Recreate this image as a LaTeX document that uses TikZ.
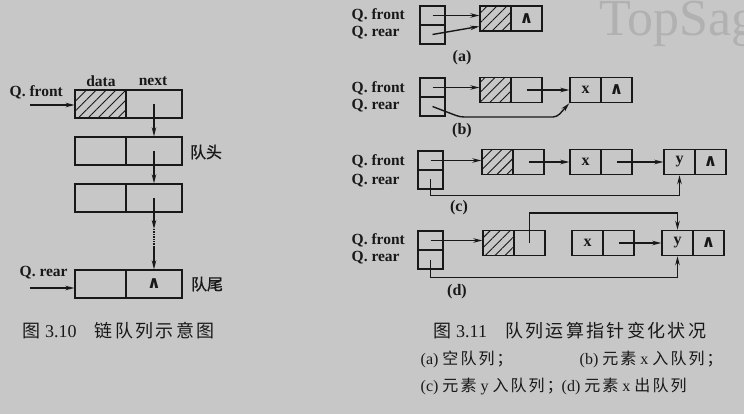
\documentclass[tikz,border=0pt]{standalone}
\usepackage{fontspec}
\setmainfont{Liberation Serif}
\newfontfamily\cjk[FakeBold=1.2]{Noto Sans CJK SC}
\newfontfamily\cjkw[LetterSpace=13]{Noto Sans CJK SC}
\newfontfamily\sym{DejaVu Sans}
\usetikzlibrary{arrows.meta,patterns.meta}
\definecolor{paper}{RGB}{199,199,199}
\definecolor{ink}{RGB}{24,24,24}
\definecolor{wmark}{RGB}{177,177,177}
\def\nil{{\sym\bfseries\fontsize{17}{17}\selectfont ∧}}
\newcommand\zh[1]{{\cjkw #1}}

\begin{document}
\begin{tikzpicture}[x=1pt,y=-1pt,line width=1.4pt,draw=ink,text=ink,
  every node/.style={inner sep=0pt},
  lb/.style={draw,minimum height=28pt,font=\bfseries\fontsize{15}{15}\selectfont},
  ld/.style={lb,minimum width=51pt},
  ln/.style={lb,minimum width=56pt},
  rf/.style={draw,minimum width=31pt,minimum height=25pt,font=\bfseries\fontsize{16}{16}\selectfont},
  hd/.style={draw,minimum width=25pt,minimum height=19pt},
  hatch/.style={pattern={Lines[angle=45,distance=7pt,line width=0.9pt]},pattern color=ink},
  lab/.style={anchor=west,font=\bfseries\fontsize{15.5}{15.5}\selectfont},
  sub/.style={font=\bfseries\fontsize{16}{16}\selectfont},
  capt/.style={anchor=west,font=\fontsize{16}{16}\selectfont},
  ptr/.style={-{Stealth[length=9pt,width=4.5pt]}}]
  \useasboundingbox (0,0) rectangle (744,414);
  \fill[paper] (0,0) rectangle (744,414);
  \node[anchor=base west,text=wmark,font=\fontsize{52}{52}\selectfont] (wm) at (599,36) {TopSag};

  \node[ld,hatch] (d1) at (100.5,104) {};
  \node[ln] (n1) at (154,104) {};
  \node[ld] (d2) at (100.5,151) {};
  \node[ln] (n2) at (154,151) {};
  \node[ld] (d3) at (100.5,198) {};
  \node[ln] (n3) at (154,198) {};
  \node[ld] (d4) at (100.5,284) {};
  \node[ln] (n4) at (154,284) {\nil};
  \node[lab,anchor=center] (dt) at (101,81) {data};
  \node[lab,anchor=center] (nx) at (153,81) {next};
  \node[lab] (lf) at (9,92) {Q. front};
  \node[lab] (lr) at (19,273) {Q. rear};
  \node[font=\cjk\fontsize{16}{16}\selectfont] (t1) at (206,152) {队头};
  \node[font=\cjk\fontsize{16}{16}\selectfont] (t2) at (207,284) {队尾};
  \coordinate (qf) at (30,105);
  \coordinate (qr) at (30,288);
  \coordinate (m1) at (154,229);
  \coordinate (m2) at (154,247);

  \draw[ptr] (qf) -- (qf -| d1.west);
  \draw[ptr] (qr) -- (qr -| d4.west);
  \draw[ptr] (n1.center) -- (n2.north);
  \draw[ptr] (n2.center) -- (n3.north);
  \draw[ptr] (n3.center) -- (m1);
  \draw[densely dotted] (m1) -- (m2);
  \draw[ptr] (m2) -- (n4.north);

  \node[hd] (fa) at (432.5,15.5) {};
  \node[hd] (ra) at (432.5,34.5) {};
  \node[rf,hatch] (da) at (495.5,18.5) {};
  \node[rf] (na) at (526.5,18.5) {\nil};
  \node[lab] (qfa) at (351,15) {Q. front};
  \node[lab] (qra) at (351,33) {Q. rear};
  \node[sub] (a) at (462,58) {(a)};
  \draw[ptr] (fa.center) -- (fa.center -| da.west);
  \draw[ptr] (ra.center) -- (da.206);

  \node[hd] (fb) at (432.5,87.5) {};
  \node[hd] (rb) at (432.5,106.5) {};
  \node[rf,hatch] (db) at (495.5,90) {};
  \node[rf] (nb) at (526.5,90) {};
  \node[rf] (xb) at (585.5,90) {x};
  \node[rf] (xnb) at (616.5,90) {\nil};
  \node[lab] (qfb) at (351,88) {Q. front};
  \node[lab] (qrb) at (351,106) {Q. rear};
  \node[sub] (b) at (462,131) {(b)};
  \coordinate (b1) at (460,117);
  \coordinate (b2) at (557,117);
  \draw[ptr] (fb.center) -- (fb.center -| db.west);
  \draw[ptr] (nb.center) -- (xb.west);
  \draw[ptr,rounded corners=4pt] (rb.center) -- (b1) -- (b2) -- (xb.south west);

  \node[hd] (fc) at (430.5,160.5) {};
  \node[hd] (rc) at (430.5,179.5) {};
  \node[rf,hatch] (dc) at (497.5,162) {};
  \node[rf] (nc) at (528.5,162) {};
  \node[rf] (xc) at (585.5,162) {x};
  \node[rf] (xnc) at (616.5,162) {};
  \node[rf] (yc) at (679.5,162) {y};
  \node[rf] (ync) at (710.5,162) {\nil};
  \node[lab] (qfc) at (351,161) {Q. front};
  \node[lab] (qrc) at (351,181) {Q. rear};
  \node[sub] (c) at (459,208) {(c)};
  \draw[ptr] (fc.center) -- (fc.center -| dc.west);
  \draw[ptr] (nc.center) -- (xc.west);
  \draw[ptr] (xnc.center) -- (yc.west);
  \draw[ptr] (rc.center) -- ++(0,16) -| (yc.south);

  \node[hd] (fd) at (430.5,240.5) {};
  \node[hd] (rd) at (430.5,259.5) {};
  \node[rf,hatch] (dd) at (498.5,243) {};
  \node[rf] (nd) at (529.5,243) {};
  \node[rf] (xd) at (587.5,243) {x};
  \node[rf] (xnd) at (618.5,243) {};
  \node[rf] (yd) at (677.5,243) {y};
  \node[rf] (ynd) at (708.5,243) {\nil};
  \node[lab] (qfd) at (351,240) {Q. front};
  \node[lab] (qrd) at (351,258) {Q. rear};
  \node[sub] (d) at (457,292) {(d)};
  \draw[ptr] (fd.center) -- (fd.center -| dd.west);
  \draw[ptr] (nd.center) -- ++(0,-30) -| (yd.north);
  \draw[ptr] (xnd.center) -- (yd.west);
  \draw[ptr] (rd.center) -- ++(0,18) -| (yd.south);

  \node[capt,font=\fontsize{18}{18}\selectfont] (c10) at (22,331) {\zh{图} 3.10\quad\zh{链队列示意图}};
  \node[capt,font=\fontsize{18}{18}\selectfont] (c11) at (433,331) {\zh{图} 3.11\quad\zh{队列运算指针变化状况}};
  \node[capt] (ca) at (420,359) {(a) \zh{空队列；}};
  \node[capt] (cb) at (579,359) {(b) \zh{元素} x \zh{入队列；}};
  \node[capt] (cc) at (420,386) {(c) \zh{元素} y \zh{入队列；}};
  \node[capt] (cd) at (561,386) {(d) \zh{元素} x \zh{出队列}};
\end{tikzpicture}
\end{document}
